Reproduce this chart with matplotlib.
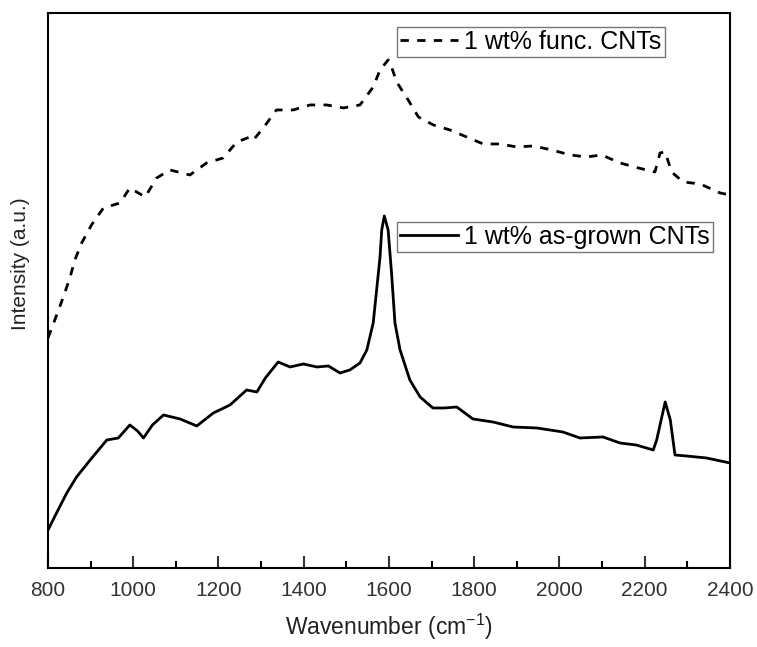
import numpy as np
import matplotlib.pyplot as plt
from matplotlib.ticker import MultipleLocator

plt.rcParams["font.family"] = ["Liberation Sans", "DejaVu Sans"]

# ── data (intensity in arbitrary units) ─────────────────────────────────────
x_asgrown = [800, 820, 844, 867, 899, 938, 965, 992, 1010, 1024,
             1045, 1071, 1110, 1149, 1188, 1227, 1266, 1290, 1310, 1340,
             1368, 1399, 1431, 1458, 1485, 1508, 1532, 1548, 1563, 1571,
             1579, 1583, 1589, 1598, 1606, 1614, 1626, 1649, 1673, 1703,
             1730, 1759, 1797, 1844, 1891, 1947, 2008, 2048, 2102, 2142,
             2180, 2220, 2228, 2248, 2260, 2271, 2298, 2345, 2400]
y_asgrown = [38, 55, 75, 91, 108, 128, 130, 143, 137, 130,
             143, 153, 149, 142, 155, 163, 178, 176, 190, 206,
             201, 204, 201, 202, 195, 198, 205, 218, 245, 278,
             311, 338, 352, 338, 295, 245, 218, 188, 171, 160,
             160, 161, 149, 146, 141, 140, 136, 130, 131, 125,
             123, 118, 128, 166, 148, 113, 112, 110, 105]

x_func = [800, 816, 836, 852, 863, 879, 902, 930, 969, 992,
          1028, 1055, 1086, 1133, 1172, 1211, 1243, 1274, 1282, 1305,
          1336, 1375, 1415, 1454, 1493, 1532, 1563, 1579, 1598, 1602,
          1618, 1645, 1669, 1704, 1743, 1782, 1821, 1860, 1900, 1939,
          1982, 2025, 2064, 2099, 2142, 2185, 2224, 2236, 2248, 2263,
          2290, 2330, 2377, 2400]
y_func = [230, 248, 271, 291, 308, 325, 343, 360, 365, 380,
          371, 390, 398, 393, 405, 410, 426, 431, 428, 440,
          458, 458, 463, 463, 460, 463, 481, 498, 508, 506,
          486, 468, 451, 443, 438, 431, 424, 424, 421, 422,
          418, 413, 411, 413, 405, 400, 396, 415, 416, 396,
          386, 384, 375, 373]

label_func = "1 wt% func. CNTs"
label_asgrown = "1 wt% as-grown CNTs"

fig = plt.figure(figsize=(7.57, 6.47), dpi=100)
ax = fig.add_axes([0.0634, 0.1221, 0.9009, 0.8579])

l_func, = ax.plot(x_func, y_func, color="black", lw=2.0, ls=(0, (3, 3)))
l_ag, = ax.plot(x_asgrown, y_asgrown, color="black", lw=2.0)

ax.set_xlim(800, 2400)
ax.set_ylim(0, 555)
ax.xaxis.set_major_locator(MultipleLocator(200))
ax.xaxis.set_minor_locator(MultipleLocator(100))
ax.tick_params(axis="x", which="major", direction="in", length=9, width=1.5,
               labelsize=15, colors="#333333", pad=9)
ax.tick_params(axis="x", which="minor", direction="in", length=5, width=1.5)
ax.set_yticks([])
for s in ax.spines.values():
    s.set_linewidth(1.5)

ax.set_xlabel("Wavenumber (cm$^{\\mathregular{-1}}$)", fontsize=16.5, labelpad=9,
              color="#222222")
ax.set_ylabel("Intensity (a.u.)", fontsize=15, color="#222222")
ax.yaxis.set_label_coords(-0.026, 0.548)

leg_kw = dict(fontsize=18, frameon=True, fancybox=False, edgecolor="#777777",
              framealpha=1, handlelength=2.3, handletextpad=0.28,
              borderpad=0.12, borderaxespad=0)
leg1 = ax.legend([l_func], [label_func], loc="upper left",
                 bbox_to_anchor=(397 / 757, 1 - 27 / 647),
                 bbox_transform=fig.transFigure, **leg_kw)
ax.add_artist(leg1)
ax.legend([l_ag], [label_asgrown], loc="upper left",
          bbox_to_anchor=(397 / 757, 1 - 222 / 647),
          bbox_transform=fig.transFigure, **leg_kw)

fig.savefig("out.png", dpi=100)
